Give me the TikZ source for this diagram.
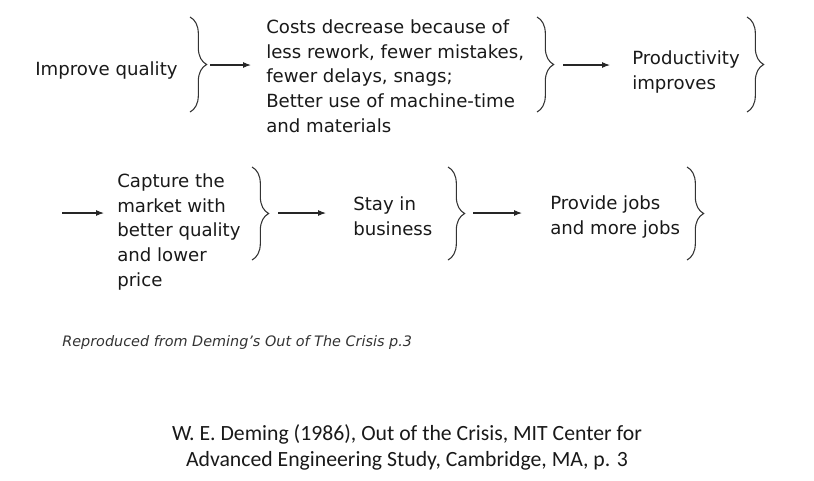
\documentclass[tikz,border=0pt]{standalone}
\usepackage{fontspec}
\setmainfont{DejaVu Sans}
\newfontfamily\calfont{Carlito}
\usetikzlibrary{decorations.pathreplacing,arrows.meta}
\begin{document}
\begin{tikzpicture}[x=0.75pt,y=-0.75pt,
  lbl/.style={anchor=base west, inner sep=0pt, align=left, font=\fontsize{13.6pt}{18.4pt}\selectfont, text=black!90},
  brc/.style={decorate, decoration={brace, amplitude=12.5pt}, draw=black!80, line width=0.8pt},
  arr/.style={-{Latex[length=6pt,width=4.5pt]}, draw=black!85, line width=0.8pt}]
\useasboundingbox (0,0) rectangle (814,480);
% row 1 (base anchor = baseline of the last line)
\node[lbl] (q) at (35,75) {Improve quality};
\node[lbl] (c) at (266,132) {Costs decrease because of\\less rework, fewer mistakes,\\fewer delays, snags;\\Better use of machine-time\\and materials};
\node[lbl] (p) at (632,89) {Productivity\\improves};
\draw[brc] (190,17) -- (190,112);
\draw[brc] (537,17) -- (537,112);
\draw[brc] (747,17) -- (747,112);
\coordinate (a1s) at (210,65); \coordinate (a1e) at (251,65);
\coordinate (a2s) at (563,65); \coordinate (a2e) at (610,65);
\draw[arr] (a1s) -- (a1e);
\draw[arr] (a2s) -- (a2e);
% row 2
\node[lbl] (m) at (117,286) {Capture the\\market with\\better quality\\and lower\\price};
\node[lbl] (s) at (353,235) {Stay in\\business};
\node[lbl] (j) at (550,234) {Provide jobs\\and more jobs};
\draw[brc] (252,167) -- (252,260);
\draw[brc] (448,167) -- (448,260);
\draw[brc] (687,167) -- (687,260);
\coordinate (b0s) at (62,213); \coordinate (b0e) at (104,213);
\coordinate (b1s) at (278,213); \coordinate (b1e) at (326,213);
\coordinate (b2s) at (473,213); \coordinate (b2e) at (522,213);
\draw[arr] (b0s) -- (b0e);
\draw[arr] (b1s) -- (b1e);
\draw[arr] (b2s) -- (b2e);
% notes
\node[anchor=base west, inner sep=0pt, font=\fontsize{10.8pt}{12pt}\selectfont\itshape, text=black!80] (r) at (62,346) {Reproduced from Deming’s Out of The Crisis p.3};
\node[anchor=base, inner sep=0pt, align=center, font=\calfont\fontsize{16.3pt}{19.5pt}\selectfont, text=black!90] (d) at (407,466) {W. E. Deming (1986), Out of the Crisis, MIT Center for\\Advanced Engineering Study, Cambridge, MA, p. 3};
\end{tikzpicture}
\end{document}
